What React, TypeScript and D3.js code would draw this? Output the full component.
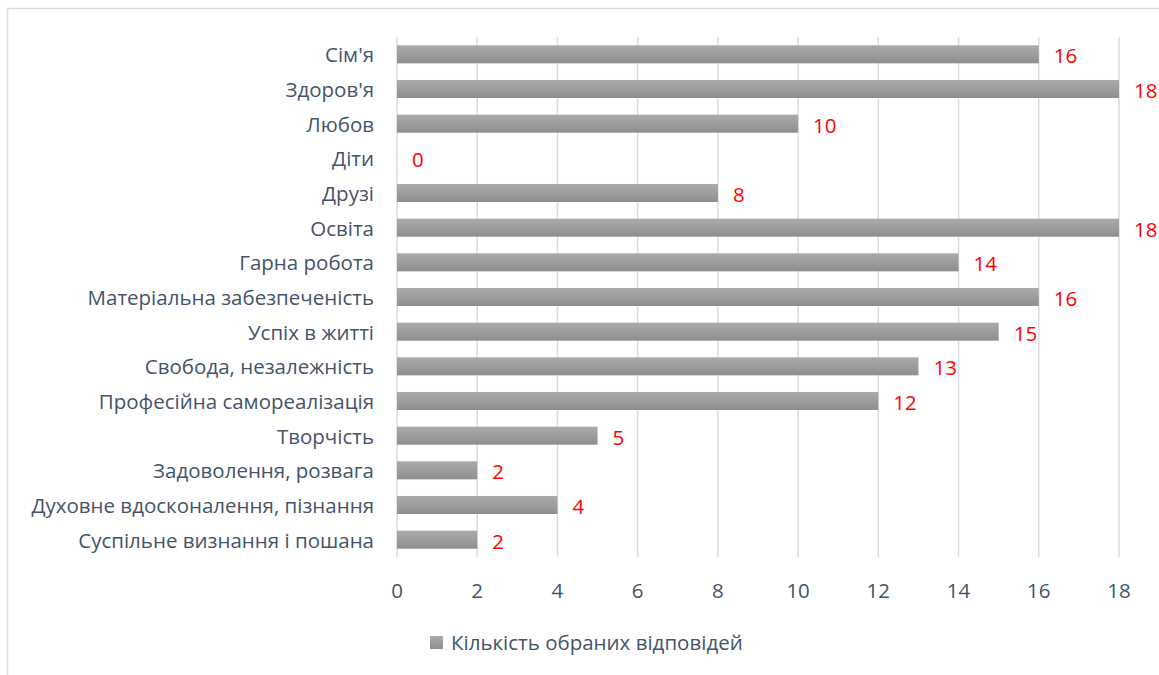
import React from "react";
import * as d3 from "d3";

const categories = [
  "Сім'я",
  "Здоров'я",
  "Любов",
  "Діти",
  "Друзі",
  "Освіта",
  "Гарна робота",
  "Матеріальна забезпеченість",
  "Успіх в житті",
  "Свобода, незалежність",
  "Професійна самореалізація",
  "Творчість",
  "Задоволення, розвага",
  "Духовне вдосконалення, пізнання",
  "Суспільне визнання і пошана",
];
const values = [16, 18, 10, 0, 8, 18, 14, 16, 15, 13, 12, 5, 2, 4, 2];
const xTicks = [0, 2, 4, 6, 8, 10, 12, 14, 16, 18];
const seriesName = "Кількість обраних відповідей";

const W = 1159;
const H = 675;
const font = "'Open Sans', 'Noto Sans', sans-serif";
const textColor = "#44546a";

export default function App() {
  const x = d3.scaleLinear().domain([0, 18]).range([397, 1119]);
  const y = d3
    .scaleBand<string>()
    .domain(categories)
    .range([37, 557])
    .paddingInner(0.48)
    .paddingOuter(0.24);
  const bh = y.bandwidth();

  return (
    <svg
      width={W}
      height={H}
      style={{ position: "absolute", left: 0, top: 0, background: "#fff" }}
    >
      <defs>
        <linearGradient id="barGrad" x1="0" y1="0" x2="0" y2="1">
          <stop offset="0" stopColor="#ababab" />
          <stop offset="1" stopColor="#8e8e8e" />
        </linearGradient>
      </defs>
      <rect
        x={7.5}
        y={8.5}
        width={W}
        height={H}
        fill="#fff"
        stroke="#d9dde3"
        strokeWidth={1.5}
      />
      {xTicks.map((t) => (
        <line
          key={"g" + t}
          x1={x(t)}
          x2={x(t)}
          y1={37}
          y2={557}
          stroke="#d9dde3"
          strokeWidth={1.5}
        />
      ))}
      {categories.map((c, i) => (
        <g key={c}>
          {values[i] > 0 && (
            <rect
              x={x(0)}
              y={y(c)!}
              width={x(values[i]) - x(0)}
              height={bh}
              fill="url(#barGrad)"
            />
          )}
          <text
            x={374}
            y={y(c)! + bh / 2}
            textAnchor="end"
            dominantBaseline="central"
            fontFamily={font}
            fontSize={20.5}
            fill={textColor}
          >
            {c}
          </text>
          <text
            x={x(values[i]) + 15}
            y={y(c)! + bh / 2 + 1}
            dominantBaseline="central"
            fontFamily={font}
            fontSize={20.5}
            fill="#ff0000"
          >
            {values[i]}
          </text>
        </g>
      ))}
      {xTicks.map((t) => (
        <text
          key={"t" + t}
          x={x(t)}
          y={590}
          textAnchor="middle"
          dominantBaseline="central"
          fontFamily={font}
          fontSize={20.5}
          fill={textColor}
        >
          {t}
        </text>
      ))}
      <rect x={430} y={636} width={13} height={13} fill="url(#barGrad)" />
      <text
        x={451}
        y={642}
        dominantBaseline="central"
        fontFamily={font}
        fontSize={20.5}
        fill={textColor}
      >
        {seriesName}
      </text>
    </svg>
  );
}
